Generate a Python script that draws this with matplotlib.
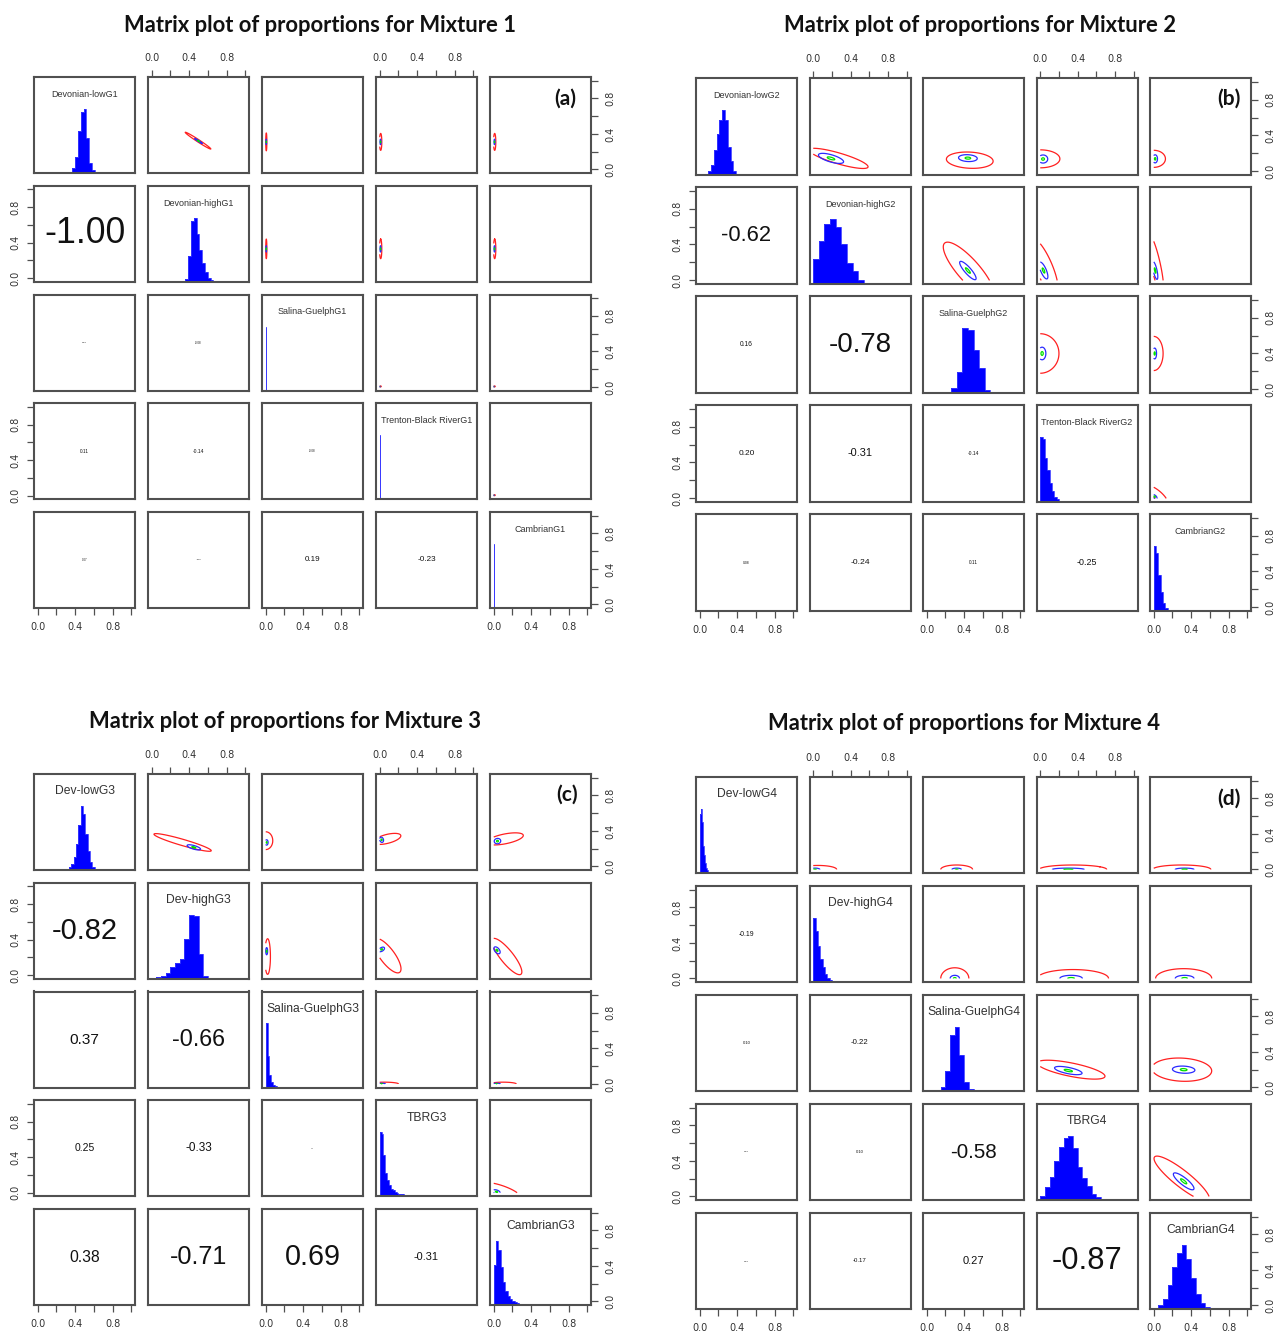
import numpy as np
import matplotlib
matplotlib.use("Agg")
import matplotlib.pyplot as plt

W, H, DPI = 1277, 1334, 100

# ---------------------------------------------------------------- data
TICKS = [0.0, 0.2, 0.4, 0.6, 0.8, 1.0]
TICK_LABELS = ["0.0", "", "0.4", "", "0.8", ""]

# lower-triangle cell order for the correlation values
LOWER_PAIRS = [(1, 0), (2, 0), (2, 1), (3, 0), (3, 1), (3, 2), (4, 0), (4, 1), (4, 2), (4, 3)]
# upper-triangle cell order for the density contours
UPPER_PAIRS = [(0, 1), (0, 2), (0, 3), (0, 4), (1, 2), (1, 3), (1, 4), (2, 3), (2, 4), (3, 4)]

# ---- Mixture 1
mix1_names = ["Devonian-lowG1", "Devonian-highG1", "Salina-GuelphG1",
              "Trenton-Black RiverG1", "CambrianG1"]
mix1_hist_start = [0.37, 0.36, 0.0, 0.0, 0.0]
mix1_hist_width = [0.03, 0.03, 0.008, 0.008, 0.008]
mix1_hist_heights = [
    [0.08, 0.25, 0.65, 0.95, 1.0, 0.55, 0.15, 0.04],
    [0.05, 0.4, 0.95, 1.0, 0.75, 0.5, 0.3, 0.15, 0.06, 0.02],
    [1.0, 0.01],
    [1.0, 0.01],
    [1.0, 0.01],
]
mix1_corr = [-1.00, 0.06, -0.08, 0.11, -0.14, -0.08, 0.07, -0.07, 0.19, -0.23]
# red ellipse (cx, cy, rx, ry, angle) followed by the inner blue one (cx, cy, rx, ry)
mix1_contours = [
    (0.495, 0.324, 0.166, 0.013, -34.5, 0.50, 0.32, 0.05, 0.006),
    (0.006, 0.31, 0.006, 0.10, 0, 0.006, 0.31, 0.003, 0.03),
    (0.010, 0.31, 0.012, 0.095, 0, 0.008, 0.31, 0.005, 0.03),
    (0.010, 0.31, 0.012, 0.095, 0, 0.008, 0.31, 0.005, 0.03),
    (0.006, 0.33, 0.006, 0.11, 0, 0.006, 0.33, 0.003, 0.035),
    (0.010, 0.33, 0.012, 0.11, 0, 0.008, 0.33, 0.005, 0.035),
    (0.010, 0.33, 0.012, 0.11, 0, 0.008, 0.33, 0.005, 0.035),
    (0.006, 0.006, 0.010, 0.005, 0, 0.004, 0.004, 0.003, 0.002),
    (0.006, 0.006, 0.010, 0.005, 0, 0.004, 0.004, 0.003, 0.002),
    (0.006, 0.006, 0.010, 0.005, 0, 0.004, 0.004, 0.003, 0.002),
]

# ---- Mixture 2
mix2_names = ["Devonian-lowG2", "Devonian-highG2", "Salina-GuelphG2",
              "Trenton-Black RiverG2", "CambrianG2"]
mix2_hist_start = [0.06, 0.0, 0.20, 0.0, 0.0]
mix2_hist_width = [0.03, 0.06, 0.06, 0.025, 0.025]
mix2_hist_heights = [
    [0.02, 0.06, 0.16, 0.38, 0.64, 0.85, 1.0, 0.85, 0.43, 0.22, 0.06, 0.01],
    [0.38, 0.67, 0.93, 1.0, 0.88, 0.62, 0.33, 0.2, 0.06, 0.02, 0.01, 0.01, 0.005],
    [0.01, 0.08, 0.32, 1.0, 0.97, 0.66, 0.39, 0.05, 0.01],
    [1.0, 0.98, 0.68, 0.5, 0.3, 0.17, 0.08, 0.04, 0.02, 0.01, 0.01, 0.005],
    [1.0, 0.9, 0.55, 0.3, 0.12, 0.05, 0.02, 0.01, 0.005],
]
mix2_corr = [-0.62, 0.16, -0.78, 0.20, -0.31, -0.14, 0.08, -0.24, 0.11, -0.25]
mix2_contours = [
    (0.27, 0.145, 0.33, 0.06, -17, 0.19, 0.145, 0.14, 0.04),
    (0.46, 0.125, 0.25, 0.09, -3, 0.44, 0.148, 0.10, 0.038),
    (0.0, 0.14, 0.21, 0.10, 0, 0.03, 0.138, 0.05, 0.045),
    (0.0, 0.14, 0.125, 0.095, 0, 0.015, 0.14, 0.025, 0.045),
    (0.45, 0.11, 0.40, 0.12, -50, 0.44, 0.11, 0.13, 0.035),
    (0.04, 0.15, 0.34, 0.09, -68, 0.035, 0.11, 0.10, 0.03),
    (0.02, 0.18, 0.34, 0.05, -78, 0.015, 0.11, 0.10, 0.02),
    (0.0, 0.40, 0.20, 0.22, 0, 0.02, 0.40, 0.04, 0.07),
    (0.0, 0.40, 0.10, 0.19, 0, 0.01, 0.40, 0.02, 0.06),
    (0.04, 0.04, 0.14, 0.045, -42, 0.01, 0.02, 0.03, 0.015),
]

# ---- Mixture 3
mix3_names = ["Dev-lowG3", "Dev-highG3", "Salina-GuelphG3", "TBRG3", "CambrianG3"]
mix3_hist_start = [0.31, 0.0, 0.0, 0.0, 0.0]
mix3_hist_width = [0.025, 0.05, 0.02, 0.02, 0.025]
mix3_hist_heights = [
    [0.02, 0.05, 0.09, 0.2, 0.4, 0.71, 1.0, 0.87, 0.56, 0.29, 0.12, 0.05, 0.02, 0.01],
    [0.01, 0.02, 0.05, 0.09, 0.18, 0.25, 0.31, 0.625, 1.0, 0.98, 0.38, 0.05, 0.01],
    [1.0, 0.5, 0.2, 0.08, 0.04, 0.02, 0.01],
    [1.0, 0.98, 0.65, 0.36, 0.25, 0.18, 0.12, 0.09, 0.06, 0.05, 0.04, 0.04, 0.03,
     0.02, 0.02, 0.015, 0.015, 0.01, 0.01],
    [0.63, 1.0, 0.86, 0.59, 0.36, 0.22, 0.14, 0.09, 0.06, 0.045, 0.03, 0.02, 0.015, 0.01],
]
mix3_corr = [-0.82, 0.37, -0.66, 0.25, -0.33, 0.03, 0.38, -0.71, 0.69, -0.31]
mix3_contours = [
    (0.33, 0.27, 0.32, 0.035, -17, 0.45, 0.215, 0.075, 0.02),
    (0.0, 0.29, 0.075, 0.10, 0, 0.01, 0.27, 0.015, 0.03),
    (0.08, 0.31, 0.15, 0.05, 15, 0.02, 0.30, 0.02, 0.03),
    (0.12, 0.31, 0.20, 0.055, 12, 0.04, 0.285, 0.035, 0.03),
    (0.02, 0.21, 0.03, 0.20, 0, 0.01, 0.27, 0.01, 0.04),
    (0.08, 0.22, 0.23, 0.08, -55, 0.02, 0.29, 0.02, 0.035),
    (0.14, 0.21, 0.25, 0.07, -53, 0.035, 0.28, 0.045, 0.025),
    (0.05, 0.0, 0.15, 0.02, 0, 0.02, 0.0, 0.04, 0.008),
    (0.10, 0.0, 0.14, 0.02, 0, 0.03, 0.0, 0.04, 0.008),
    (0.08, 0.02, 0.22, 0.06, -20, 0.03, 0.01, 0.04, 0.02),
]

# ---- Mixture 4
mix4_names = ["Dev-lowG4", "Dev-highG4", "Salina-GuelphG4", "TBRG4", "CambrianG4"]
mix4_hist_start = [0.0, 0.0, 0.05, 0.0, 0.0]
mix4_hist_width = [0.01, 0.025, 0.05, 0.05, 0.05]
mix4_hist_heights = [
    [0.92, 1.0, 0.8, 0.6, 0.42, 0.28, 0.15, 0.08, 0.04, 0.02],
    [1.0, 0.8, 0.57, 0.36, 0.23, 0.13, 0.06, 0.03, 0.015, 0.01, 0.005, 0.005, 0.003],
    [0.01, 0.02, 0.06, 0.31, 0.87, 1.0, 0.56, 0.14, 0.03, 0.01],
    [0.07, 0.2, 0.36, 0.61, 0.83, 0.97, 1.0, 0.82, 0.52, 0.35, 0.22, 0.09, 0.04, 0.02, 0.01],
    [0.02, 0.06, 0.15, 0.37, 0.65, 0.87, 1.0, 0.78, 0.49, 0.24, 0.09, 0.03, 0.01, 0.005],
]
mix4_corr = [-0.19, 0.10, -0.22, 0.06, 0.10, -0.58, 0.06, -0.17, 0.27, -0.87]
mix4_contours = [
    (0.05, 0.0, 0.20, 0.045, 0, 0.02, 0.0, 0.05, 0.015),
    (0.32, 0.0, 0.17, 0.05, 0, 0.32, 0.0, 0.05, 0.015),
    (0.35, 0.0, 0.36, 0.05, 0, 0.30, 0.0, 0.17, 0.015),
    (0.30, 0.0, 0.31, 0.05, 0, 0.33, 0.0, 0.10, 0.015),
    (0.30, 0.0, 0.15, 0.12, 0, 0.30, 0.0, 0.05, 0.035),
    (0.35, 0.0, 0.38, 0.10, 0, 0.33, 0.0, 0.12, 0.035),
    (0.32, 0.0, 0.30, 0.11, 0, 0.33, 0.0, 0.10, 0.035),
    (0.33, 0.20, 0.37, 0.075, -12, 0.30, 0.19, 0.15, 0.035),
    (0.30, 0.20, 0.32, 0.13, -3, 0.32, 0.20, 0.12, 0.04),
    (0.30, 0.20, 0.38, 0.09, -40, 0.32, 0.17, 0.14, 0.04),
]

titles = ["Matrix plot of proportions for Mixture 1", "Matrix plot of proportions for Mixture 2",
          "Matrix plot of proportions for Mixture 3", "Matrix plot of proportions for Mixture 4"]
panel_tags = ["(a)", "(b)", "(c)", "(d)"]

# ---------------------------------------------------------------- layout / style
# each block: left/top of first cell (px), cell size, cell pitch, diagonal label size
blocks = [
    dict(x0=34, y0=77, w=101, h=96, sx=114, sy=108.75, lab=6.5, title=(320, 25), tag=(565, 99)),
    dict(x0=696, y0=78, w=101, h=97, sx=113.5, sy=109, lab=6.5, title=(980, 25), tag=(1229, 99)),
    dict(x0=34, y0=774, w=101, h=96, sx=114, sy=108.75, lab=8.7, title=(285, 722), tag=(567, 795)),
    dict(x0=696, y0=777, w=101, h=96, sx=113.5, sy=109, lab=8.7, title=(964, 724), tag=(1229, 799)),
]
mixtures = [
    (mix1_names, mix1_hist_start, mix1_hist_width, mix1_hist_heights, mix1_corr, mix1_contours),
    (mix2_names, mix2_hist_start, mix2_hist_width, mix2_hist_heights, mix2_corr, mix2_contours),
    (mix3_names, mix3_hist_start, mix3_hist_width, mix3_hist_heights, mix3_corr, mix3_contours),
    (mix4_names, mix4_hist_start, mix4_hist_width, mix4_hist_heights, mix4_corr, mix4_contours),
]

FRAME = "#505050"
TXT = "#333333"
LIM = (-0.04, 1.04)
HIST_TOP = 1.5  # histogram panels: bar heights on a 0..1.5 scale

# contour grid, denser near zero where many densities pile up
grid = np.unique(np.concatenate([np.linspace(0, 0.06, 241), np.linspace(0.06, 1.0, 471)]))
GX, GY = np.meshgrid(grid, grid)


def ellipse_field(cx, cy, rx, ry, ang):
    t = np.deg2rad(ang)
    dx, dy = GX - cx, GY - cy
    u = dx * np.cos(t) + dy * np.sin(t)
    v = -dx * np.sin(t) + dy * np.cos(t)
    return (u / rx) ** 2 + (v / ry) ** 2


fig = plt.figure(figsize=(W / DPI, H / DPI), dpi=DPI)
renderer = fig.canvas.get_renderer()


def fit_text(t, target_px):
    t.set_fontsize(10)
    bb = t.get_window_extent(renderer)
    t.set_fontsize(max(10 * target_px / bb.width, 0.5))


for b, (names, hstart, hwidth, hheights, corr, contours) in zip(blocks, mixtures):
    n = len(names)
    axes = {}
    for i in range(n):
        for j in range(n):
            left = (b["x0"] + j * b["sx"]) / W
            bottom = 1 - (b["y0"] + i * b["sy"] + b["h"]) / H
            ax = fig.add_axes([left, bottom, b["w"] / W, b["h"] / H])
            axes[(i, j)] = ax
            ax.set_xticks(TICKS)
            ax.set_yticks(TICKS)
            ax.set_xticklabels(TICK_LABELS)
            ax.set_yticklabels(TICK_LABELS, va="center")
            top = i == 0 and j % 2 == 1
            bot = i == n - 1 and j % 2 == 0
            lft = j == 0 and i % 2 == 1
            rgt = j == n - 1 and i % 2 == 0
            ax.tick_params(axis="x", top=top, labeltop=top, bottom=bot, labelbottom=bot,
                           direction="out", length=5, width=0.9, color=FRAME, pad=5,
                           labelsize=7, labelcolor=TXT)
            ax.tick_params(axis="y", left=lft, labelleft=lft, right=rgt, labelright=rgt,
                           direction="out", length=5, width=0.9, color=FRAME, pad=5,
                           labelsize=7, labelcolor=TXT, labelrotation=90)
            for s in ax.spines.values():
                s.set_color(FRAME)
                s.set_linewidth(1.5)

    # diagonal: histograms with variable names
    for k in range(n):
        ax = axes[(k, k)]
        h = np.asarray(hheights[k], dtype=float)
        edges = hstart[k] + hwidth[k] * np.arange(len(h) + 1)
        tops = LIM[0] + h / HIST_TOP * (LIM[1] - LIM[0])
        ax.stairs(tops, edges, baseline=LIM[0], fill=True, color="#0000ff", linewidth=0)
        ax.stairs(tops, edges, baseline=LIM[0], fill=False, color="#3a3aff", linewidth=0.6)
        ax.text(0.5, 0.82, names[k], transform=ax.transAxes, ha="center", va="center",
                fontsize=b["lab"], color=TXT, family="Liberation Sans")

    # lower triangle: correlation values, sized by magnitude
    for (i, j), r in zip(LOWER_PAIRS, corr):
        ax = axes[(i, j)]
        t = ax.text(0.5, 0.5, f"{r:.2f}", transform=ax.transAxes, ha="center",
                    va="center", color="#111111", family="Liberation Sans")
        fit_text(t, 0.8 * abs(r) * b["w"])

    # upper triangle: nested density contours
    for (i, j), c in zip(UPPER_PAIRS, contours):
        ax = axes[(i, j)]
        rcx, rcy, rrx, rry, ang, bcx, bcy, brx, bry = c
        ax.contour(GX, GY, ellipse_field(rcx, rcy, rrx, rry, ang), levels=[1.0],
                   colors=["#ff2020"], linewidths=0.9)
        ax.contour(GX, GY, ellipse_field(bcx, bcy, brx, bry, ang), levels=[1.0],
                   colors=["#2a2aff"], linewidths=0.9)
        ax.contour(GX, GY, ellipse_field(bcx, bcy, 0.3 * brx, 0.3 * bry, ang), levels=[1.0],
                   colors=["#00e000"], linewidths=0.9)

    for ax in axes.values():
        ax.set_xlim(*LIM)
        ax.set_ylim(*LIM)

# block titles and panel tags
for b, ttl, tag in zip(blocks, titles, panel_tags):
    tx, ty = b["title"]
    t = fig.text(tx / W, 1 - ty / H, ttl, ha="center", va="center", fontweight="bold",
                 family="Lato", color="#111111")
    fit_text(t, 392)
    gx, gy = b["tag"]
    fig.text(gx / W, 1 - gy / H, tag, ha="center", va="center", fontweight="bold",
             family="Lato", fontsize=15, color="#111111")

fig.savefig("out.png", dpi=DPI, facecolor="white")
